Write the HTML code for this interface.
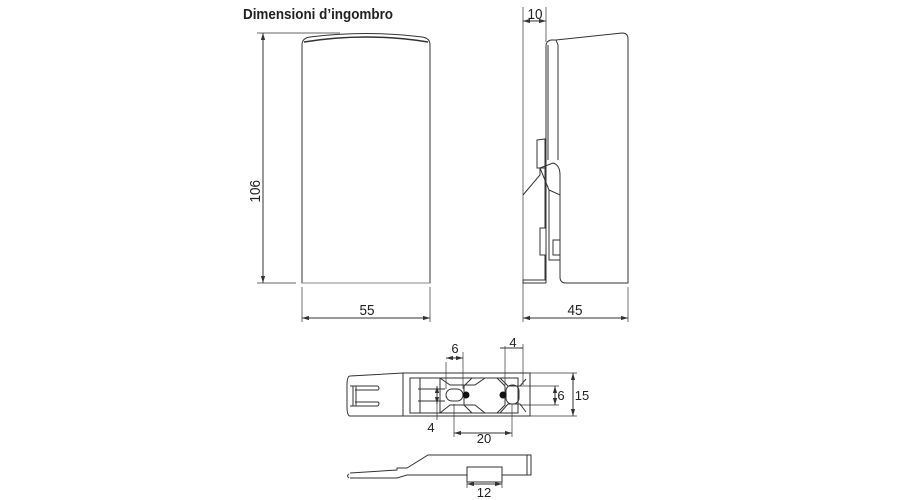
<!DOCTYPE html>
<html><head><meta charset="utf-8"><style>
html,body{margin:0;padding:0;background:#fff;}
svg{display:block;}
text{font-family:"Liberation Sans",Arial,sans-serif;fill:#222;}
</style></head><body>
<svg width="900" height="500" viewBox="0 0 900 500" xmlns="http://www.w3.org/2000/svg">
<defs>
<marker id="a" viewBox="0 0 10 10" refX="10" refY="5" markerWidth="7" markerHeight="7" orient="auto-start-reverse"><path d="M0,2 L10,5 L0,8 z" fill="#333"/></marker>
</defs>
<text x="243" y="19" font-size="15" font-weight="bold" textLength="150" lengthAdjust="spacingAndGlyphs">Dimensioni d’ingombro</text>
<g fill="none" stroke="#333" stroke-width="1">
<path d="M302,283 L302,45 Q302,38 310,37 Q366,30 422,37 Q430,38 430,45 L430,283 Z" fill="#fff"/>
<path d="M304,42 Q366,32 428,42" stroke-width="1.5"/>
<line x1="302" y1="283" x2="430" y2="283" stroke="#888"/>
<line x1="257" y1="33" x2="340" y2="33" stroke-width="0.7"/>
<line x1="257" y1="283" x2="296" y2="283" stroke-width="0.7"/>
<line x1="263" y1="33" x2="263" y2="283" marker-start="url(#a)" marker-end="url(#a)"/>
<line x1="302" y1="287" x2="302" y2="322" stroke-width="0.7"/>
<line x1="430" y1="287" x2="430" y2="322" stroke-width="0.7"/>
<line x1="302" y1="318" x2="430" y2="318" marker-start="url(#a)" marker-end="url(#a)"/>
<line x1="523" y1="7" x2="523" y2="322" stroke-width="0.7"/>
<line x1="546" y1="7" x2="546" y2="42" stroke-width="0.7"/>
<line x1="628" y1="287" x2="628" y2="322" stroke-width="0.7"/>
<line x1="523" y1="21" x2="546" y2="21" marker-start="url(#a)" marker-end="url(#a)"/>
<line x1="523" y1="318" x2="628" y2="318" marker-start="url(#a)" marker-end="url(#a)"/>
<path d="M546,283 L546,46 Q546,41 551,40 L556,40 L622,33 Q628,33 628,39 L628,283 L566,283 Q560,283 560,277 L560,260"/>
<path d="M556,40 L558,45 L558,160"/>
<path d="M548,45 L548,160"/>
<path d="M537,140 L545,139 L545,168 L537,168 Z"/>
<path d="M540,168 L540,175 L523,195"/>
<path d="M540,168 L553,163 Q560,165 560,175 L560,195 L549,190 Z"/>
<path d="M549,190 L549,260 L560,260 L560,195"/>
<path d="M553,240 L560,240 L560,255 L553,255 Z"/>
<path d="M545,168 L545,228 L540,228 L540,255 L545,255 L545,280 L523,280 L523,283 L546,283"/>
<path d="M403,373 L350,376 Q347,376 347,385 L347,406 Q347,416 350,416 L403,416 Z"/>
<path d="M350,386 L378,386 M350,406 L378,406 M353,386 L353,406 M356,386 L356,406 M378,386 Q380,389 378,390 L355,390 M378,406 Q380,403 378,402 L355,402"/>
<rect x="403" y="373" width="127" height="43"/>
<rect x="410" y="378" width="108" height="35"/>
<path d="M420,378 L420,413 M440,378 L440,413 M418,389 L445,389 M418,401 L445,401"/>
<path d="M440,378 L450,385 L475,385 L485,378 M440,413 L450,405 L475,405 L485,413"/>
<path d="M472,378 L497,378 L505,386 L505,405 L497,413 L472,413 L464,405 L464,386 Z"/>
<path d="M500,378 L508,386 L520,386 L526,379 M500,413 L508,404 L520,404 L526,412"/>
<rect x="446" y="389" width="17" height="12" rx="6"/>
<rect x="506" y="385" width="13" height="19" rx="6"/>
<line x1="446" y1="362" x2="446" y2="389" stroke-width="0.7"/>
<line x1="463" y1="352" x2="463" y2="389" stroke-width="0.7"/>
<line x1="446" y1="358" x2="463" y2="358" marker-start="url(#a)" marker-end="url(#a)"/>
<line x1="505" y1="346" x2="505" y2="385" stroke-width="0.7"/>
<line x1="523" y1="344" x2="523" y2="385" stroke-width="0.7"/>
<line x1="500" y1="348" x2="523" y2="348" />
<line x1="530" y1="373" x2="577" y2="373" stroke-width="0.7"/>
<line x1="530" y1="416" x2="577" y2="416" stroke-width="0.7"/>
<line x1="573" y1="373" x2="573" y2="416" marker-start="url(#a)" marker-end="url(#a)"/>
<line x1="520" y1="386" x2="559" y2="386" stroke-width="0.7"/>
<line x1="520" y1="405" x2="559" y2="405" stroke-width="0.7"/>
<line x1="555" y1="386" x2="555" y2="405" marker-start="url(#a)" marker-end="url(#a)"/>
<line x1="437" y1="386" x2="437" y2="404" marker-start="url(#a)" marker-end="url(#a)"/>
<line x1="437" y1="404" x2="437" y2="420" stroke-width="0.7"/>
<line x1="454" y1="404" x2="454" y2="437" stroke-width="0.7"/>
<line x1="512" y1="404" x2="512" y2="437" stroke-width="0.7"/>
<line x1="454" y1="433" x2="512" y2="433" marker-start="url(#a)" marker-end="url(#a)"/>
<path d="M350,473 L397,470 L397,468 L407,468 L428,455 L531,455 L531,475 L407,475 L397,478 L350,478"/>
<path d="M349,474 Q346,476 349,478"/>
<path d="M527,455 L527,475"/>
<rect x="467" y="467" width="35" height="15" fill="#fff"/>
<line x1="467" y1="482" x2="467" y2="488" stroke-width="0.7"/>
<line x1="502" y1="482" x2="502" y2="488" stroke-width="0.7"/>
<line x1="467" y1="484" x2="502" y2="484" marker-start="url(#a)" marker-end="url(#a)"/>
</g>
<circle cx="466" cy="395" r="3.5" fill="#111"/>
<circle cx="503" cy="395" r="3.5" fill="#111"/>
<g font-size="15">
<text x="263" y="165" text-anchor="middle" transform="rotate(-90 263 165) translate(0,-3) scale(0.9,1)" >106</text>
<text x="367" y="315" text-anchor="middle" transform="translate(367,0) scale(0.9,1) translate(-367,0)">55</text>
<text x="535" y="19" text-anchor="middle" transform="translate(535,0) scale(0.9,1) translate(-535,0)">10</text>
<text x="575" y="315" text-anchor="middle" transform="translate(575,0) scale(0.9,1) translate(-575,0)">45</text>
</g>
<g font-size="13">
<text x="455" y="353" text-anchor="middle">6</text>
<text x="513" y="347" text-anchor="middle">4</text>
<text x="582" y="400" text-anchor="middle">15</text>
<text x="561" y="400" text-anchor="middle">6</text>
<text x="431" y="432" text-anchor="middle">4</text>
<text x="484" y="443" text-anchor="middle">20</text>
<text x="484" y="497" text-anchor="middle">12</text>
</g>
</svg>
</body></html>
